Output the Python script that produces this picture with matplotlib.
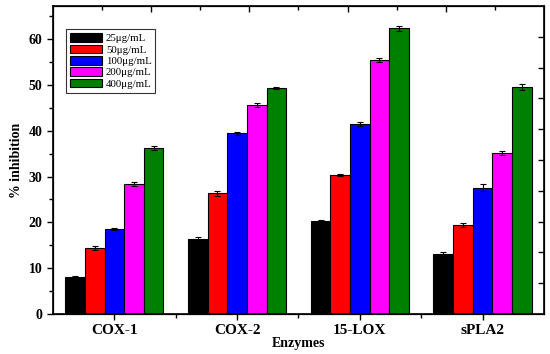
import matplotlib
matplotlib.use("Agg")
import matplotlib.pyplot as plt
import numpy as np
from matplotlib.ticker import MultipleLocator

plt.rcParams['font.family'] = ['Liberation Serif', 'DejaVu Serif']

enzymes = ['COX-1', 'COX-2', '15-LOX', 'sPLA2']
doses = ['25μg/mL', '50μg/mL', '100μg/mL', '200μg/mL', '400μg/mL']
colors = ['#000000', '#ff0000', '#0000ff', '#ff00ff', '#008000']

vals_25 = [8.1, 16.3, 20.4, 13.2]
vals_50 = [14.4, 26.3, 30.4, 19.4]
vals_100 = [18.5, 39.4, 41.5, 27.6]
vals_200 = [28.4, 45.6, 55.4, 35.2]
vals_400 = [36.2, 49.4, 62.3, 49.5]

err_25 = [0.3, 0.5, 0.2, 0.4]
err_50 = [0.5, 0.5, 0.2, 0.5]
err_100 = [0.2, 0.4, 0.5, 0.7]
err_200 = [0.5, 0.4, 0.4, 0.4]
err_400 = [0.4, 0.2, 0.5, 0.6]

values = [vals_25, vals_50, vals_100, vals_200, vals_400]
errors = [err_25, err_50, err_100, err_200, err_400]

fig = plt.figure(figsize=(5.5, 3.54), dpi=100)
ax = fig.add_axes([0.0964, 0.113, 0.8926, 0.870])

x = np.arange(1, len(enzymes) + 1)
w = 0.16
for i, (v, e) in enumerate(zip(values, errors)):
    ax.bar(x + (i - 2) * w, v, w, color=colors[i], edgecolor='black', linewidth=0.8,
           yerr=e, capsize=2.5, error_kw=dict(elinewidth=0.8, capthick=0.8, ecolor='black'),
           label=doses[i])

ax.set_xlim(0.5, 4.5)
ax.set_ylim(0, 67.2)
ax.set_xticks(x)
ax.set_xticklabels(enzymes, fontsize=11, fontweight='bold')
ax.set_xticks([1.5, 2.5, 3.5], minor=True)
ax.yaxis.set_major_locator(MultipleLocator(10))
ax.yaxis.set_minor_locator(MultipleLocator(5))
for lab in ax.get_yticklabels():
    lab.set_fontweight('bold')
    lab.set_fontsize(10)
ax.tick_params(which='major', direction='out', length=4, width=1)
ax.tick_params(which='minor', direction='out', length=3, width=1)
ax.set_xlabel('Enzymes', fontsize=10, fontweight='bold', labelpad=0)
ax.set_ylabel('% inhibition', fontsize=10, fontweight='bold', labelpad=4)
for s in ax.spines.values():
    s.set_linewidth(1.2)

# top and right decorative axes
axt = ax.twiny()
axt.set_xlim(0, 1)
axt.set_xticks([0.2, 0.4, 0.6, 0.8])
axt.set_xticks([0.1, 0.3, 0.5, 0.7, 0.9], minor=True)
axt.tick_params(which='both', direction='in', labeltop=False, width=1)
axt.tick_params(which='major', length=4)
axt.tick_params(which='minor', length=3)
axr = ax.twinx()
axr.set_ylim(0, 100)
axr.set_yticks(np.arange(10, 100, 10))
axr.tick_params(direction='in', labelright=False, length=4, width=1)

leg = ax.legend(loc='upper left', bbox_to_anchor=(0.026, 0.924), fontsize=7.8,
                frameon=True, fancybox=False, edgecolor='black',
                handlelength=3.0, handleheight=0.85, labelspacing=0.12,
                borderpad=0.35, handletextpad=0.35, borderaxespad=0)
leg.get_frame().set_linewidth(0.8)

plt.savefig('out.png', dpi=100)
plt.close()
